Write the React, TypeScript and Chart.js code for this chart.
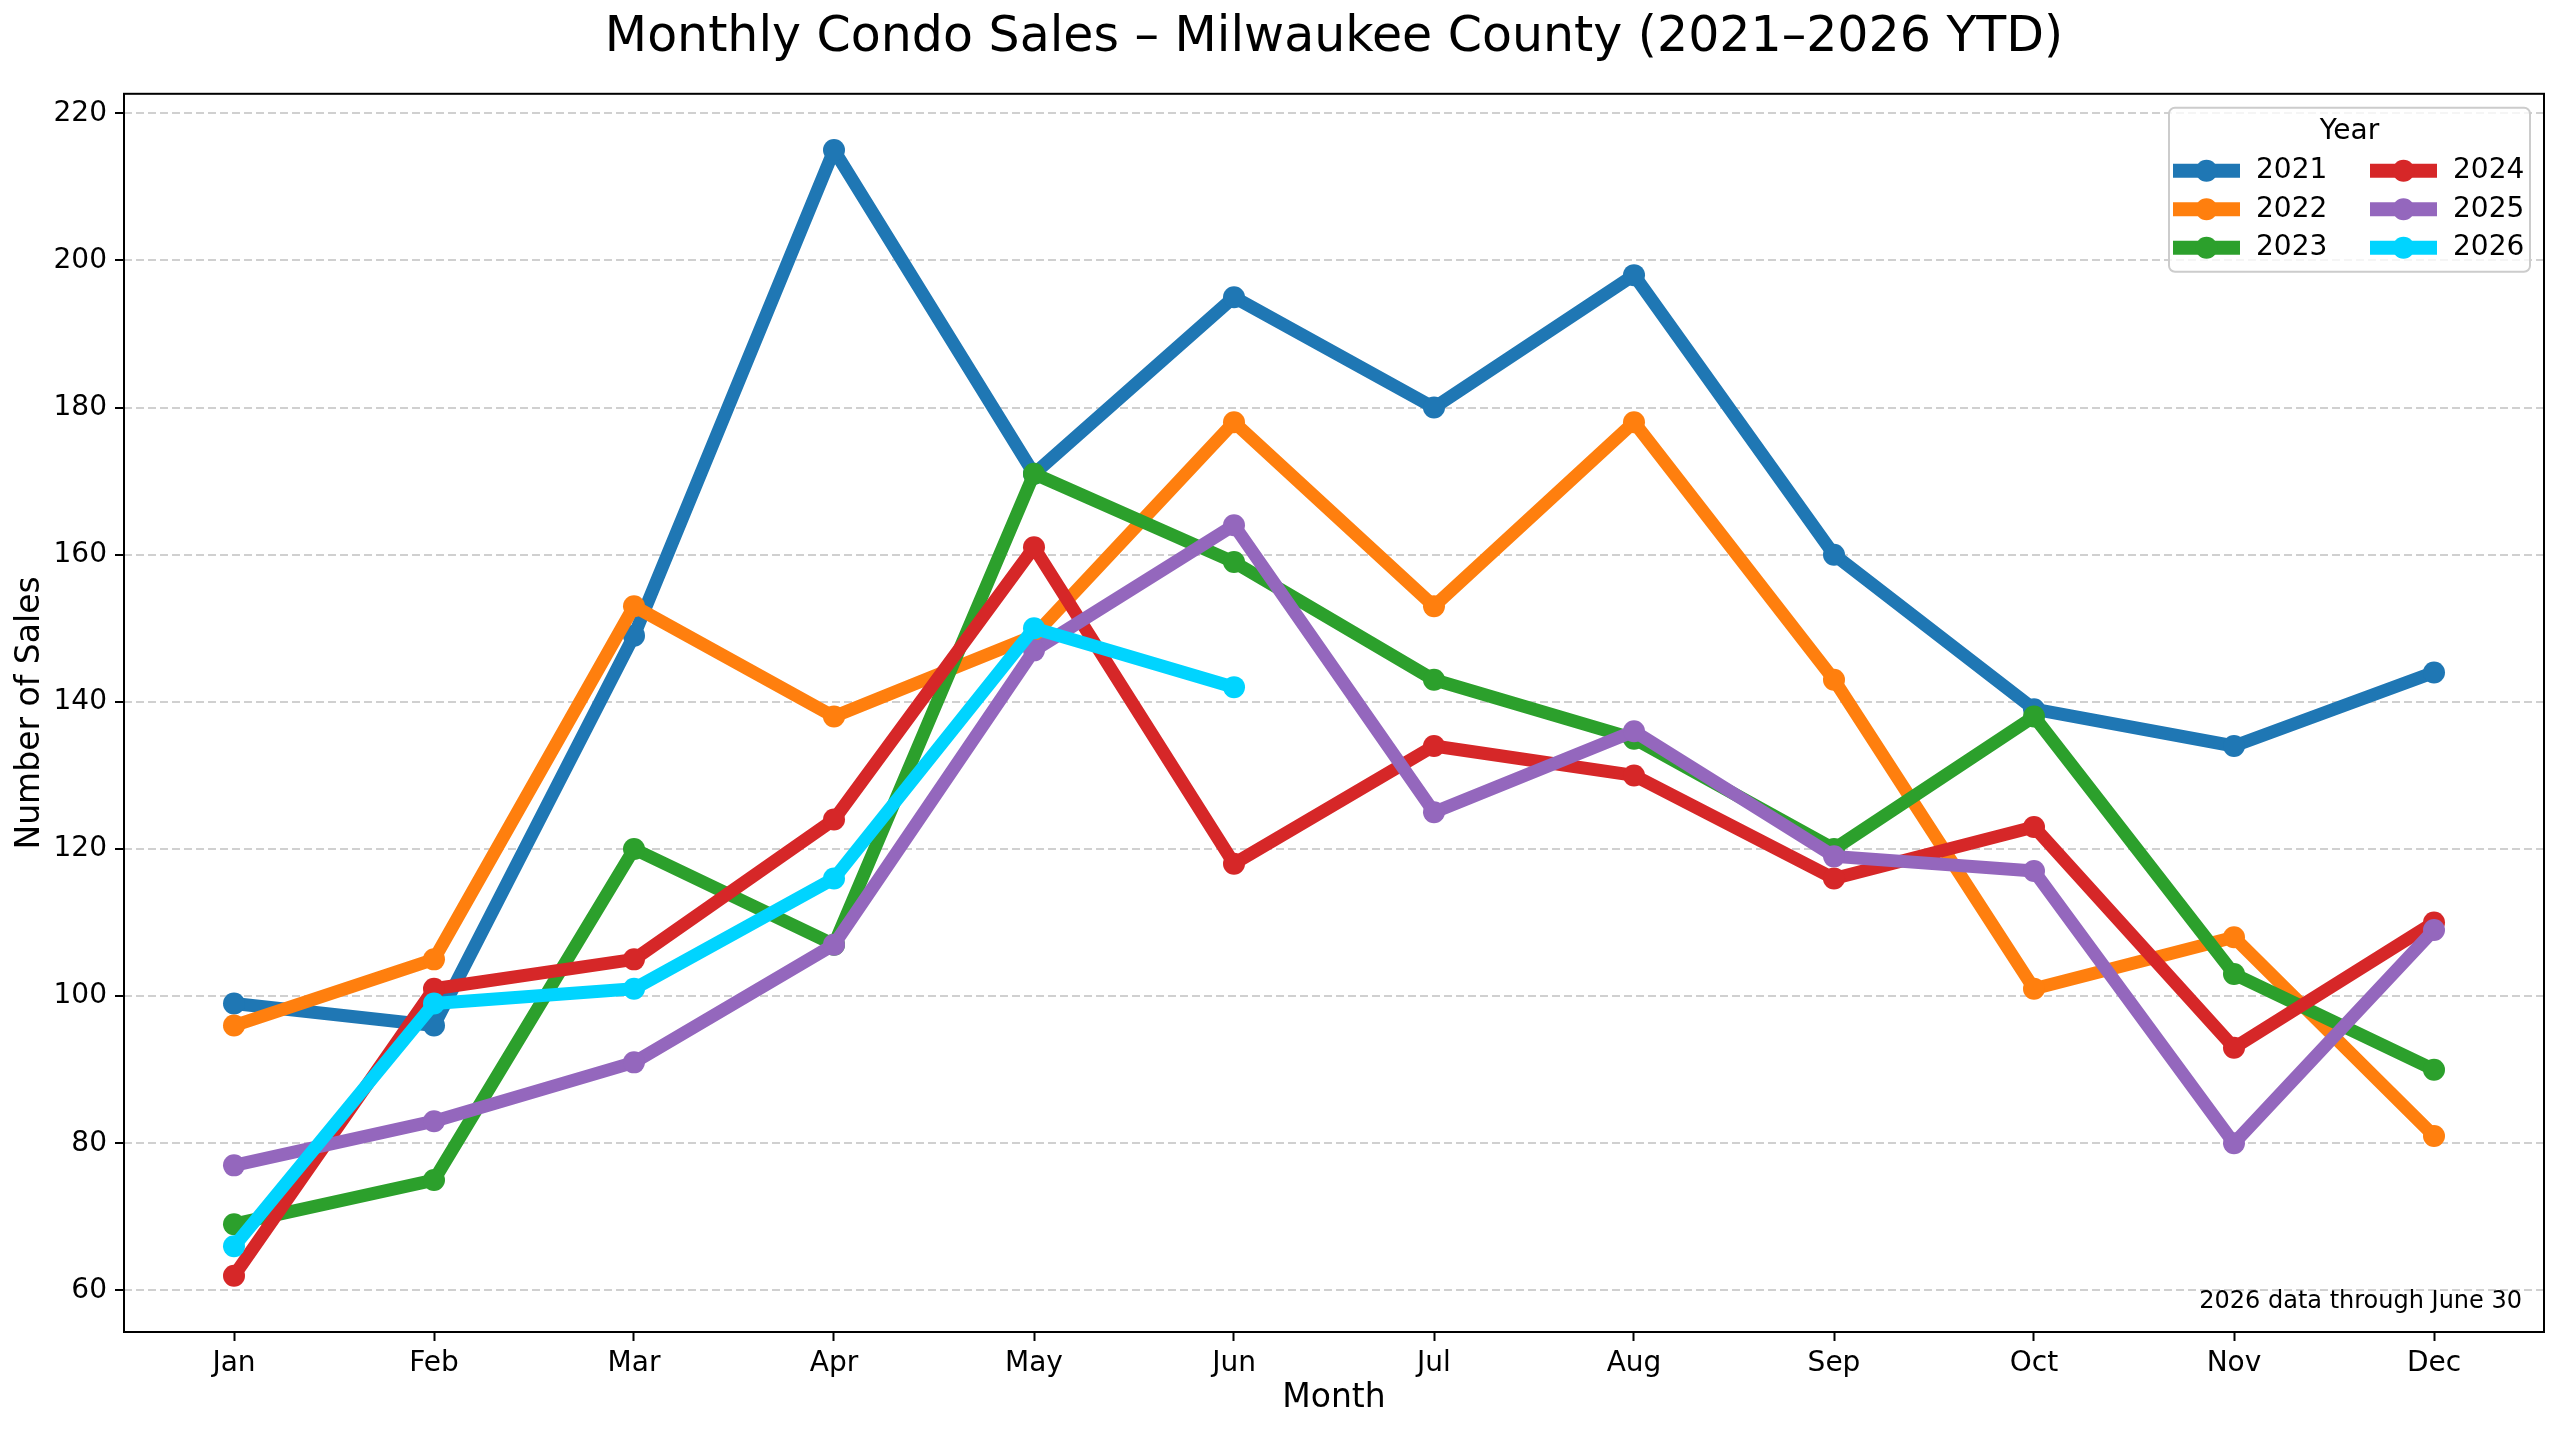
import { useEffect, useRef } from "react";
import { Chart, registerables } from "chart.js";

Chart.register(...registerables);

const MONTHS = ["Jan", "Feb", "Mar", "Apr", "May", "Jun", "Jul", "Aug", "Sep", "Oct", "Nov", "Dec"];
const YEARS = ["2021", "2022", "2023", "2024", "2025", "2026"];

const SALES_2021 = [99, 96, 149, 215, 171, 195, 180, 198, 160, 139, 134, 144];
const SALES_2022 = [96, 105, 153, 138, 149, 178, 153, 178, 143, 101, 108, 81];
const SALES_2023 = [69, 75, 120, 107, 171, 159, 143, 135, 120, 138, 103, 90];
const SALES_2024 = [62, 101, 105, 124, 161, 118, 134, 130, 116, 123, 93, 110];
const SALES_2025 = [77, 83, 91, 107, 147, 164, 125, 136, 119, 117, 80, 109];
const SALES_2026 = [66, 99, 101, 116, 150, 142]; // YTD, through June

const Y_TICKS = [60, 80, 100, 120, 140, 160, 180, 200, 220];
const COLORS = ["#1f77b4", "#ff7f0e", "#2ca02c", "#d62728", "#9467bd", "#00d4ff"];

const TITLE = "Monthly Condo Sales – Milwaukee County (2021–2026 YTD)";
const NOTE = "2026 data through June 30";
const FONT = "'DejaVu Sans', sans-serif";

// frame round the plot (all four spines)
const framePlugin = {
  id: "frame",
  afterDatasetsDraw(chart: Chart) {
    const { ctx, chartArea: a } = chart;
    ctx.save();
    ctx.strokeStyle = "#000";
    ctx.lineWidth = 2;
    ctx.strokeRect(a.left, a.top, a.right - a.left, a.bottom - a.top);
    ctx.restore();
  },
};

// two-column legend with a title, in the upper right of the plot, plus the note
const legendPlugin = {
  id: "yearLegend",
  afterDraw(chart: Chart) {
    const { ctx, chartArea: a } = chart;
    const boxW = 361;
    const boxH = 164;
    const boxLeft = a.right - 14 - boxW;
    const boxTop = a.top + 14;

    ctx.save();
    ctx.beginPath();
    ctx.roundRect(boxLeft, boxTop, boxW, boxH, 6);
    ctx.fillStyle = "rgba(255,255,255,0.8)";
    ctx.fill();
    ctx.lineWidth = 2;
    ctx.strokeStyle = "#cccccc";
    ctx.stroke();

    ctx.fillStyle = "#000";
    ctx.font = `28px ${FONT}`;
    ctx.textAlign = "center";
    ctx.textBaseline = "middle";
    ctx.fillText("Year", boxLeft + boxW / 2, boxTop + 24);

    chart.data.datasets.forEach((ds: any, i: number) => {
      const col = Math.floor(i / 3);
      const row = i % 3;
      const hx = boxLeft + 4 + col * 197;
      const cy = boxTop + 63 + row * 38.5;
      ctx.strokeStyle = ds.borderColor;
      ctx.lineWidth = 14;
      ctx.lineCap = "butt";
      ctx.beginPath();
      ctx.moveTo(hx, cy);
      ctx.lineTo(hx + 67, cy);
      ctx.stroke();
      ctx.fillStyle = ds.borderColor;
      ctx.beginPath();
      ctx.arc(hx + 33.5, cy, 11, 0, Math.PI * 2);
      ctx.fill();
      ctx.fillStyle = "#000";
      ctx.textAlign = "left";
      ctx.fillText(ds.label, hx + 83, cy);
    });

    ctx.font = `24px ${FONT}`;
    ctx.textAlign = "right";
    ctx.fillText(NOTE, a.right - 22, a.bottom - 30);
    ctx.restore();
  },
};

export default function App() {
  const canvasRef = useRef<HTMLCanvasElement | null>(null);

  useEffect(() => {
    const el = canvasRef.current;
    if (!el) return;

    const series = [SALES_2021, SALES_2022, SALES_2023, SALES_2024, SALES_2025, SALES_2026];

    const chart = new Chart(el, {
      type: "line",
      data: {
        datasets: series.map((values, i) => ({
          label: YEARS[i],
          data: values.map((v, m) => ({ x: m, y: v })),
          borderColor: COLORS[i],
          backgroundColor: COLORS[i],
          borderWidth: 13,
          borderJoinStyle: "round" as const,
          pointRadius: 11,
          pointHoverRadius: 11,
          pointBorderWidth: 0,
          pointBackgroundColor: COLORS[i],
          tension: 0,
          fill: false,
          order: YEARS.length - 1 - i, // later years on top
        })),
      },
      options: {
        animation: false,
        responsive: true,
        maintainAspectRatio: false,
        events: [],
        layout: { padding: { left: 0, right: 16, top: 0, bottom: 0 } },
        font: { family: FONT },
        scales: {
          x: {
            type: "linear",
            min: -0.55,
            max: 11.55,
            afterBuildTicks: (s: any) => {
              s.ticks = MONTHS.map((_, i) => ({ value: i }));
            },
            afterFit: (s: any) => {
              s.height = 99;
            },
            ticks: {
              autoSkip: false,
              maxRotation: 0,
              color: "#000",
              padding: 6,
              font: { family: FONT, size: 28 },
              callback: (v: any) => MONTHS[v as number],
            },
            grid: {
              drawOnChartArea: false,
              drawTicks: true,
              tickLength: 9,
              tickColor: "#000",
              tickWidth: 2,
            },
            border: { display: false },
            title: {
              display: true,
              text: "Month",
              color: "#000",
              font: { family: FONT, size: 33 },
              padding: { top: 0, bottom: 13 },
            },
          },
          y: {
            type: "linear",
            min: 54.35,
            max: 222.65,
            afterBuildTicks: (s: any) => {
              s.ticks = Y_TICKS.map((v) => ({ value: v }));
            },
            afterFit: (s: any) => {
              s.width = 124;
            },
            ticks: {
              color: "#000",
              padding: 8,
              font: { family: FONT, size: 28 },
            },
            grid: {
              color: "rgba(170,170,170,0.55)",
              lineWidth: 2,
              drawTicks: true,
              tickLength: 9,
              tickColor: "#000",
              tickWidth: 2,
              tickBorderDash: [],
            },
            border: { display: false, dash: [8, 4] },
            title: {
              display: true,
              text: "Number of Sales",
              color: "#000",
              font: { family: FONT, size: 33 },
              padding: { top: 11, bottom: 0 },
            },
          },
        },
        plugins: {
          legend: { display: false },
          tooltip: { enabled: false },
          title: {
            display: true,
            text: TITLE,
            color: "#000",
            fullSize: false,
            font: { family: FONT, size: 49, weight: "normal" },
            padding: { top: 9, bottom: 26 },
          },
        },
      },
      plugins: [framePlugin, legendPlugin],
    });

    return () => {
      chart.destroy();
    };
  }, []);

  return (
    <div style={{ position: "fixed", left: 0, top: 0, width: 2560, height: 1431, background: "#fff" }}>
      <canvas ref={canvasRef} />
    </div>
  );
}
